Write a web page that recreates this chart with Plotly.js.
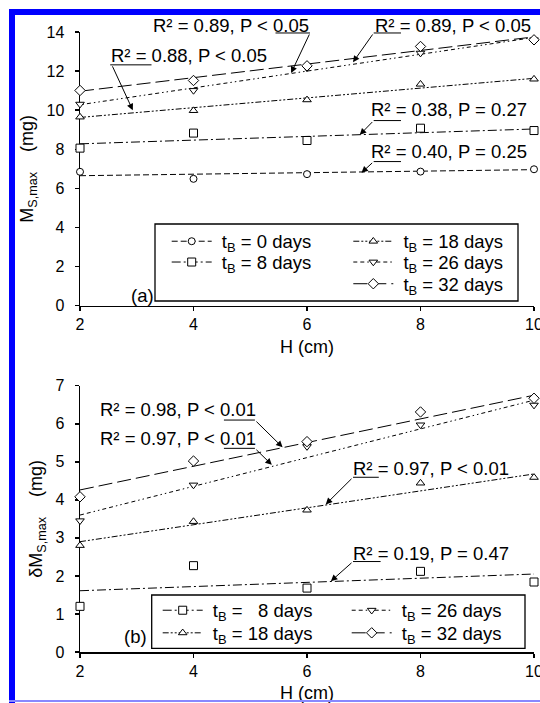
<!DOCTYPE html>
<html>
<head>
<meta charset="utf-8">
<script src="https://cdn.plot.ly/plotly-3.0.1.min.js"></script>
<style>
  html, body { margin: 0; padding: 0; background: #fff; }
  #wrap { position: relative; width: 540px; height: 703px; overflow: hidden; }
  #chart { position: absolute; left: 0; top: 0; width: 540px; height: 703px; }
  .bl { position: absolute; left: 9px; top: 9px; width: 6px; height: 694px; background: #0000ff; z-index: 5; }
  .bt { position: absolute; left: 9px; top: 9px; width: 531px; height: 6px; background: #0000ff; z-index: 5; }
  .bb { position: absolute; left: 9px; top: 700px; width: 531px; height: 2px; background: #8888ff; z-index: 5; }
</style>
</head>
<body>
<div id="wrap">
  <div id="chart"></div>
  <div class="bl"></div><div class="bt"></div><div class="bb"></div>
</div>
<script>
// ---------- data ----------
const H = [2, 4, 6, 8, 10];
const FIT_H = [2, 10];

// panel (a): MS,max (mg)
const MS_0  = [6.85, 6.49, 6.73, 6.86, 6.98];
const MS_8  = [8.06, 8.83, 8.45, 9.08, 8.96];
const MS_18 = [9.65, 9.98, 10.53, 11.33, 11.59];
const MS_26 = [10.31, 11.01, 12.16, 12.92, 13.60];
const MS_32 = [11.01, 11.52, 12.27, 13.26, 13.60];
const FIT_MS_0  = [6.65, 6.96];
const FIT_MS_8  = [8.28, 9.04];
const FIT_MS_18 = [9.63, 11.63];
const FIT_MS_26 = [10.28, 13.72];
const FIT_MS_32 = [10.97, 13.75];

// panel (b): dMS,max (mg)
const DMS_8  = [1.20, 2.27, 1.68, 2.12, 1.84];
const DMS_18 = [2.80, 3.43, 3.73, 4.44, 4.59];
const DMS_26 = [3.45, 4.39, 5.40, 5.97, 6.49];
const DMS_32 = [4.08, 5.02, 5.53, 6.31, 6.67];
const FIT_DMS_8  = [1.61, 2.05];
const FIT_DMS_18 = [2.90, 4.68];
const FIT_DMS_26 = [3.60, 6.62];
const FIT_DMS_32 = [4.26, 6.75];

const NAMES_A = ['t<sub>B</sub> = 0 days', 't<sub>B</sub> = 18 days', 't<sub>B</sub> = 8 days', 't<sub>B</sub> = 26 days', 't<sub>B</sub> = 32 days'];
const NAMES_B = ['t<sub>B</sub> =\u00a0\u00a0 8 days', 't<sub>B</sub> = 26 days', 't<sub>B</sub> = 18 days', 't<sub>B</sub> = 32 days'];

const STATS_A = ['R² = 0.89, P < 0.05', 'R² = 0.89, P < 0.05', 'R² = 0.88, P < 0.05', 'R² = 0.38, P = 0.27', 'R² = 0.40, P = 0.25'];
const STATS_B = ['R² = 0.98, P < 0.01', 'R² = 0.97, P < 0.01', 'R² = 0.97, P < 0.01', 'R² = 0.19, P = 0.47'];

// ---------- geometry helpers (pixel -> paper) ----------
const ML = 80, MT = 32, PW = 454, PH = 620;
const PX = p => (p - ML) / PW;
const PY = p => 1 - (p - MT) / PH;

// ---------- styles ----------
const FONT = 'Liberation Sans, Arial, sans-serif';
const TXT = 18.5;
const STY = {
  d0:  {dash: '6px,3px', sym: 'circle', size: 7},
  d8:  {dash: '9px,3px,2px,3px', sym: 'square', size: 8},
  d18: {dash: '6px,2px,2px,2px,2px,2px', sym: 'triangle-up', size: 7.5},
  d26: {dash: '4px,3px,4px,3px,1.5px,3px,1.5px,3px', sym: 'triangle-down', size: 7.5},
  d32: {dash: '14px,5px', sym: 'diamond', size: 8}
};

const traces = [];
function series(xa, ya, y, fit, st) {
  traces.push({x: FIT_H, y: fit, xaxis: xa, yaxis: ya, mode: 'lines', showlegend: false, hoverinfo: 'skip',
    line: {color: '#000', width: 1, dash: st.dash}});
  traces.push({x: H, y: y, xaxis: xa, yaxis: ya, mode: 'markers', showlegend: false, cliponaxis: false,
    marker: {symbol: st.sym, size: st.size, color: '#fff', line: {color: '#000', width: 1}}});
}
series('x', 'y', MS_0, FIT_MS_0, STY.d0);
series('x', 'y', MS_8, FIT_MS_8, STY.d8);
series('x', 'y', MS_18, FIT_MS_18, STY.d18);
series('x', 'y', MS_26, FIT_MS_26, STY.d26);
series('x', 'y', MS_32, FIT_MS_32, STY.d32);
series('x2', 'y2', DMS_8, FIT_DMS_8, STY.d8);
series('x2', 'y2', DMS_18, FIT_DMS_18, STY.d18);
series('x2', 'y2', DMS_26, FIT_DMS_26, STY.d26);
series('x2', 'y2', DMS_32, FIT_DMS_32, STY.d32);

// legend entries: one single-item legend per slot
const legends = {};
let nLeg = 0;
function legendItem(name, st, xa, ya, px, py) {
  nLeg += 1;
  const id = nLeg === 1 ? 'legend' : 'legend' + nLeg;
  traces.push({x: [null], y: [null], xaxis: xa, yaxis: ya, name: '\u00a0' + name, legend: id, mode: 'lines+markers', showlegend: true,
    line: {color: '#000', width: 1, dash: st.dash},
    marker: {symbol: st.sym, size: st.size, color: '#fff', line: {color: '#000', width: 1}}});
  legends[id] = {x: PX(px), y: PY(py), xanchor: 'left', yanchor: 'middle', orientation: 'v', itemwidth: 40,
    bgcolor: 'rgba(0,0,0,0)', borderwidth: 0, font: {family: FONT, size: TXT, color: '#000'}};
}
legendItem(NAMES_A[0], STY.d0, 'x', 'y', 166.7, 241.7);
legendItem(NAMES_A[1], STY.d18, 'x', 'y', 348.3, 241.7);
legendItem(NAMES_A[2], STY.d8, 'x', 'y', 166.7, 262.5);
legendItem(NAMES_A[3], STY.d26, 'x', 'y', 348.3, 262.5);
legendItem(NAMES_A[4], STY.d32, 'x', 'y', 348.3, 284.2);
legendItem(NAMES_B[0], STY.d8, 'x2', 'y2', 157.7, 610.7);
legendItem(NAMES_B[1], STY.d26, 'x2', 'y2', 346.7, 610.7);
legendItem(NAMES_B[2], STY.d18, 'x2', 'y2', 157.7, 633.3);
legendItem(NAMES_B[3], STY.d32, 'x2', 'y2', 346.7, 633.3);

// ---------- annotations & shapes ----------
const ann = [];
const shapes = [];
// legend frames
shapes.push({type: 'rect', xref: 'paper', yref: 'paper', x0: PX(155), x1: PX(518), y0: PY(301), y1: PY(224),
  line: {color: '#000', width: 1.3}, fillcolor: '#fff', layer: 'above'});
shapes.push({type: 'rect', xref: 'paper', yref: 'paper', x0: PX(151.7), x1: PX(525), y0: PY(648.3), y1: PY(595),
  line: {color: '#000', width: 1.3}, fillcolor: '#fff', layer: 'above'});

function label(text, px, py) {
  ann.push({xref: 'paper', yref: 'paper', x: PX(px), y: PY(py), text: text, showarrow: false,
    xanchor: 'center', yanchor: 'middle', font: {family: FONT, size: TXT, color: '#000'}});
}
function callout(xr, yr, text, tpx, tpy, ux0, ux1, uy, sx, tipx, tipy) {
  label(text, tpx, tpy);
  shapes.push({type: 'line', xref: xr, yref: yr, x0: ux0, x1: ux1, y0: uy, y1: uy, line: {color: '#000', width: 1}});
  ann.push({xref: xr, yref: yr, axref: xr, ayref: yr, x: tipx, y: tipy, ax: sx, ay: uy, text: '', showarrow: true,
    arrowhead: 2, arrowsize: 1.3, arrowwidth: 1, arrowcolor: '#000', standoff: 0, startstandoff: 0});
}
callout('x', 'y', STATS_A[0], 230.8, 25, 5.445, 6.053, 13.95, 6.053, 5.72, 11.9);
callout('x', 'y', STATS_A[1], 453, 25, 7.175, 7.656, 13.95, 7.175, 6.81, 12.45);
callout('x', 'y', STATS_A[2], 188.6, 55, 2.532, 3.26, 12.32, 2.56, 2.93, 10.0);
callout('x', 'y', STATS_A[3], 448.6, 110, 7.175, 7.656, 9.47, 7.175, 6.93, 8.74);
callout('x', 'y', STATS_A[4], 448.6, 151.7, 7.175, 7.656, 7.373, 7.175, 6.96, 6.80);
callout('x2', 'y2', STATS_B[0], 178, 410, 4.536, 5.082, 6.097, 5.082, 5.57, 5.38);
callout('x2', 'y2', STATS_B[1], 178, 438.3, 4.536, 5.082, 5.354, 5.082, 5.38, 4.92);
callout('x2', 'y2', STATS_B[2], 430.5, 468.3, 6.811, 7.265, 4.593, 6.811, 6.33, 3.88);
callout('x2', 'y2', STATS_B[3], 430.5, 553.3, 6.811, 7.297, 2.378, 6.811, 6.42, 1.86);
label('(a)', 142.7, 295);
label('(b)', 135, 636.7);

// ---------- layout ----------
const axisBase = {
  showline: true, linecolor: '#000', linewidth: 1.5, ticks: 'outside', ticklen: 4, tickwidth: 1.5, tickcolor: '#000',
  showgrid: false, zeroline: false, layer: 'below traces', automargin: false, ticklabeloverflow: 'allow',
  tickfont: {family: FONT, size: 16, color: '#000'}
};
const SP = '\u00a0\u00a0\u00a0\u00a0';
const layout = Object.assign({
  width: 540, height: 703,
  margin: {l: ML, r: 540 - ML - PW, t: MT, b: 703 - MT - PH},
  paper_bgcolor: '#fff', plot_bgcolor: '#fff',
  font: {family: FONT, size: 18, color: '#000'},
  showlegend: true,
  xaxis: Object.assign({}, axisBase, {domain: [0, 1], anchor: 'y', range: [2, 10], tickvals: [2, 4, 6, 8, 10],
    title: {text: 'H (cm)', font: {family: FONT, size: 18}, standoff: 8}}),
  yaxis: Object.assign({}, axisBase, {domain: [0.5585, 1], anchor: 'x', range: [0, 14], dtick: 2, ticklabelstandoff: 7,
    title: {text: 'M<sub>S,max</sub>' + SP + '(mg)', font: {family: FONT, size: 18}, standoff: 8}}),
  xaxis2: Object.assign({}, axisBase, {domain: [0, 1], anchor: 'y2', range: [2, 10], tickvals: [2, 4, 6, 8, 10],
    title: {text: 'H (cm)', font: {family: FONT, size: 18}, standoff: 8}}),
  yaxis2: Object.assign({}, axisBase, {domain: [0, 0.4295], anchor: 'x2', range: [0, 7], dtick: 1, ticklabelstandoff: 7,
    title: {text: 'δM<sub>S,max</sub>' + SP + '(mg)', font: {family: FONT, size: 18}, standoff: 8}}),
  annotations: ann,
  shapes: shapes
}, legends);

Plotly.newPlot('chart', traces, layout, {staticPlot: true, displayModeBar: false});
</script>
</body>
</html>
